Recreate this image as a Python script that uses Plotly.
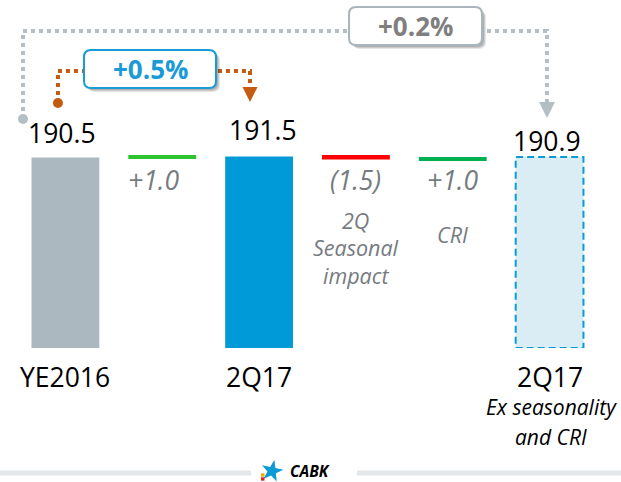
import math
import plotly.graph_objects as go

# ---------------- data ----------------
categories = ["YE2016", "Loans", "2Q17", "2Q Seasonal impact", "CRI", "2Q17 Ex seasonality and CRI"]
total_idx = [0, 2, 5]
total_values = [190.5, 191.5, 190.9]
total_labels = ["190.5", "191.5", "190.9"]
delta_idx = [1, 3, 4]
delta_values = [1.0, -1.5, 1.0]
delta_base = [190.5, 191.5, 188.5]
delta_labels = ["+1.0", "(1.5)", "+1.0"]
delta_desc = [[], ["2Q", "Seasonal", "impact"], ["CRI"]]
tick_labels = ["YE2016", "2Q17", "2Q17"]
tick_sub = [[], [], ["Ex seasonality", "and CRI"]]
growth_labels = ["+0.5%", "+0.2%"]
footer_text = "CABK"

# ---------------- styles ----------------
total_colors = ["#abb8c0", "#009ad8", "#daedf4"]
delta_colors = ["#2ec42e", "#ff0000", "#00b050"]
FONT = "Open Sans"
W, H = 621, 482
ML, MR, MT, MB = 17, 23, 0, 134
PW = W - ML - MR
PXX = PW / 6.0              # pixels per category
YMAX = H - MT - MB          # 1 unit = 1 px


def dx(px):
    return px / PXX


def py(v):
    # data-y (may be below axis range) -> paper coordinate
    return v / YMAX


def pxp(px):
    # pixel x -> paper x
    return (px - ML) / PW


def pyp(pix):
    # pixel y -> paper y
    return (YMAX - pix) / YMAX


fig = go.Figure()

fig.add_trace(go.Bar(
    x=total_idx, y=total_values, base=[0, 0, 0], width=0.7,
    marker=dict(color=total_colors, line=dict(width=0)),
    hoverinfo="skip", showlegend=False,
))
fig.add_trace(go.Bar(
    x=delta_idx, y=delta_values, base=delta_base, width=0.67,
    marker=dict(color=delta_colors, line=dict(color=delta_colors, width=3)),
    hoverinfo="skip", showlegend=False,
))

shapes = []
annotations = []

# dashed outline of last (adjusted) bar
shapes.append(dict(type="rect", xref="x", yref="y",
                   x0=total_idx[2] - 0.35, x1=total_idx[2] + 0.35,
                   y0=0, y1=total_values[2],
                   line=dict(color="#0a9bd6", width=2, dash="7px,4px"),
                   fillcolor="rgba(0,0,0,0)", layer="above"))

# total value labels
lab_dx = [-0.035, 0.04, -0.027]
lab_dy = [24.5, 27.0, 16.5]
for i, (xi, v, t) in enumerate(zip(total_idx, total_values, total_labels)):
    annotations.append(dict(x=xi + lab_dx[i], y=v + lab_dy[i], text=t, showarrow=False,
                            xref="x", yref="y", xanchor="center", yanchor="middle",
                            font=dict(family=FONT, size=26.5, color="#000000")))

# delta labels and descriptions
del_dx = [-0.09, 0.0, 0.0]
for i, (xi, t) in enumerate(zip(delta_idx, delta_labels)):
    annotations.append(dict(x=xi + del_dx[i], y=168, text="<i>" + t + "</i>", showarrow=False,
                            xref="x", yref="y", xanchor="center", yanchor="middle",
                            font=dict(family=FONT, size=26.5, color="#767b80")))
desc_y0 = [0, 128, 114]
for i, (xi, lines) in enumerate(zip(delta_idx, delta_desc)):
    for k, ln in enumerate(lines):
        annotations.append(dict(x=xi, y=desc_y0[i] - 27.5 * k, text="<i>" + ln + "</i>",
                                showarrow=False, xref="x", yref="y",
                                xanchor="center", yanchor="middle",
                                font=dict(family=FONT, size=21.5, color="#767b80")))

# category labels below bars
for i, (xi, t) in enumerate(zip(total_idx, tick_labels)):
    annotations.append(dict(x=xi, y=py(-29), text=t, showarrow=False, xref="x", yref="paper",
                            xanchor="center", yanchor="middle",
                            font=dict(family=FONT, size=26.5, color="#000000")))
    for k, ln in enumerate(tick_sub[i]):
        annotations.append(dict(x=xi + 0.015, y=py(-59 - 30 * k), text="<i>" + ln + "</i>",
                                showarrow=False, xref="x", yref="paper",
                                xanchor="center", yanchor="middle",
                                font=dict(family=FONT, size=21, color="#000000")))


def rrect(x0, x1, y0, y1, r=6):
    rx, ry = dx(r), r
    return (f"M {x0+rx},{y1} L {x1-rx},{y1} Q {x1},{y1} {x1},{y1-ry} "
            f"L {x1},{y0+ry} Q {x1},{y0} {x1-rx},{y0} L {x0+rx},{y0} "
            f"Q {x0},{y0} {x0},{y0+ry} L {x0},{y1-ry} Q {x0},{y1} {x0+rx},{y1} Z")


def connector(x_start, y_circle, y_top, x_end, y_tip, color, half_w, box, text, tcolor):
    y_arrow = y_tip + 2 * half_w
    shapes.append(dict(type="path", xref="x", yref="y",
                       path=f"M {x_start},{y_circle} L {x_start},{y_top} L {x_end},{y_top} L {x_end},{y_arrow}",
                       line=dict(color=color, width=4, dash="dot"), layer="above"))
    r = 5
    shapes.append(dict(type="circle", xref="x", yref="y",
                       x0=x_start - dx(r), x1=x_start + dx(r), y0=y_circle - r, y1=y_circle + r,
                       fillcolor=color, line=dict(width=0), layer="above"))
    hw = dx(half_w)
    shapes.append(dict(type="path", xref="x", yref="y",
                       path=f"M {x_end-hw},{y_arrow} L {x_end+hw},{y_arrow} L {x_end},{y_tip} Z",
                       fillcolor=color, line=dict(width=0), layer="above"))
    bx0, bx1, by0, by1, bcol = box
    for off, a in [(4, 0.10), (3, 0.12), (2, 0.12)]:
        shapes.append(dict(type="path", xref="x", yref="y",
                           path=rrect(bx0 + dx(off), bx1 + dx(off), by0 - off, by1 - off, 7),
                           fillcolor=f"rgba(0,0,0,{a})", line=dict(width=0), layer="above"))
    shapes.append(dict(type="path", xref="x", yref="y", path=rrect(bx0, bx1, by0, by1, 7),
                       fillcolor="#ffffff", line=dict(color=bcol, width=2), layer="above"))
    annotations.append(dict(x=(bx0 + bx1) / 2, y=(by0 + by1) / 2, text="<b>" + text + "</b>",
                            showarrow=False, xref="x", yref="y",
                            xanchor="center", yanchor="middle",
                            font=dict(family=FONT, size=26, color=tcolor)))


# YE2016 -> 2Q17 (+0.5%)
connector(total_idx[0] - 0.077, 245, 277, total_idx[1] - 0.094, 246, "#c55a11", 7.5,
          (0.192, 1.555, 260, 298, "#1a9ad6"), growth_labels[0], "#1a9ad6")
# YE2016 -> 2Q17 ex (+0.2%)
connector(total_idx[0] - 0.438, 229, 317, total_idx[2] - 0.027, 230, "#b3bec5", 8,
          (2.929, 4.302, 303, 341, "#a9b5bc"), growth_labels[1], "#7f7f7f")

# footer line
for xa, xb in [(pxp(0), pxp(251)), (pxp(357), pxp(621))]:
    shapes.append(dict(type="line", xref="paper", yref="paper", x0=xa, x1=xb,
                       y0=pyp(473), y1=pyp(473),
                       line=dict(color="#e3e7ea", width=5)))

# footer logo: star shape
cx, cy, ro, ri = 272, 471, 11.5, 4.5
pts = []
for k in range(10):
    ang = math.radians(-90 + 36 * k + 12)
    rr = ro if k % 2 == 0 else ri
    pts.append((pxp(cx + rr * math.cos(ang)), pyp(cy + rr * math.sin(ang))))
star_path = "M " + " L ".join(f"{a},{b}" for a, b in pts) + " Z"
shapes.append(dict(type="path", xref="paper", yref="paper", path=star_path,
                   fillcolor="#0a9bd6", line=dict(width=0)))
for yy, col in [(475, "#f5a800"), (479, "#e2231a")]:
    shapes.append(dict(type="rect", xref="paper", yref="paper",
                       x0=pxp(261), x1=pxp(264.5), y0=pyp(yy + 1.7), y1=pyp(yy - 1.7),
                       fillcolor=col, line=dict(width=0)))
annotations.append(dict(x=pxp(310), y=pyp(471), text="<b><i>" + footer_text + "</i></b>",
                        showarrow=False, xref="paper", yref="paper", borderpad=0,
                        xanchor="center", yanchor="middle",
                        font=dict(family=FONT, size=15.5, color="#000000")))

fig.update_layout(
    width=W, height=H,
    margin=dict(l=ML, r=MR, t=MT, b=MB, pad=0, autoexpand=False),
    paper_bgcolor="#ffffff", plot_bgcolor="#ffffff",
    xaxis=dict(range=[-0.5, 5.5], visible=False, fixedrange=True),
    yaxis=dict(range=[0, YMAX], visible=False, fixedrange=True),
    barmode="overlay",
    shapes=shapes, annotations=annotations,
    showlegend=False,
)

fig.write_html("out.html", config={"displayModeBar": False},
               post_script="document.body.style.margin='0';document.body.style.overflow='hidden';")
